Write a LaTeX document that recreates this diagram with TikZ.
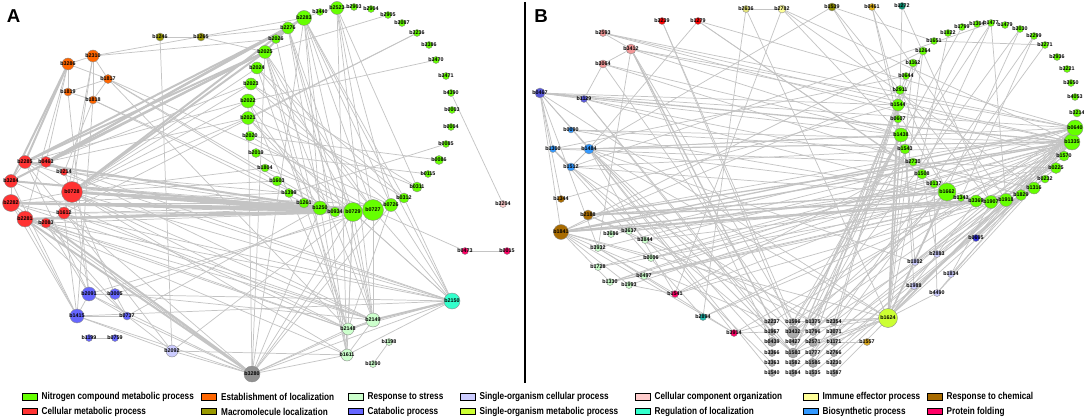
\documentclass[tikz,border=0pt]{standalone}
\usepackage{fontspec}
\setmainfont{Liberation Sans}
\usetikzlibrary{positioning}

\definecolor{nitro}{RGB}{102,255,0}
\definecolor{cellmet}{RGB}{255,51,51}
\definecolor{estloc}{RGB}{255,102,0}
\definecolor{macloc}{RGB}{153,153,0}
\definecolor{stress}{RGB}{204,255,204}
\definecolor{catab}{RGB}{102,102,255}
\definecolor{singcell}{RGB}{204,204,255}
\definecolor{singmet}{RGB}{204,255,51}
\definecolor{compor}{RGB}{255,204,204}
\definecolor{regloc}{RGB}{51,255,204}
\definecolor{immune}{RGB}{255,255,153}
\definecolor{biosyn}{RGB}{51,153,255}
\definecolor{chem}{RGB}{168,107,0}
\definecolor{fold}{RGB}{255,0,102}
\definecolor{grayn}{RGB}{170,170,170}
\definecolor{pinkB}{RGB}{242,150,150}
\definecolor{goldn}{RGB}{228,180,20}
\definecolor{tealn}{RGB}{10,140,110}
\definecolor{tealB}{RGB}{30,185,175}
\definecolor{navyn}{RGB}{45,45,215}
\definecolor{lnk}{RGB}{196,196,196}
\definecolor{lnkl}{RGB}{218,218,218}

\newcommand{\genefont}{\fontsize{4}{4}\selectfont\bfseries}
\newcommand{\legfont}{\fontsize{7.5}{8}\selectfont\bfseries}
\newcommand{\gn}[1]{\makebox[0pt]{#1}}
\newcommand{\legtxt}[1]{\scalebox{0.82}[1]{#1}}

\pgfdeclarelayer{bg}
\pgfsetlayers{bg,main}

\tikzset{every picture/.style={line width=0.75pt},
  gene/.style={circle,draw=black!45,line width=0.3pt,inner sep=0pt,minimum size=1.5pt*#1,font=\genefont},
  link/.style={draw=lnk,line width=0.55pt},
  faint/.style={draw=lnkl,line width=0.45pt},
  heavy/.style={draw=lnk,line width=1.5pt},
  medium/.style={draw=lnk,line width=1pt},
  legbox/.style={draw=black,line width=0.6pt,minimum width=11.25pt,minimum height=5pt,inner sep=0pt},
  legtext/.style={inner sep=0pt,font=\legfont},
  panel/.style={font=\fontsize{14}{14}\selectfont\bfseries}}

\begin{document}
\begin{tikzpicture}[x=0.75pt,y=0.75pt,yscale=-1,xscale=1]
\useasboundingbox (0,0) rectangle (1084,420);

% Panel labels
\node[panel] (labA) at (13.5,16.5) {A};
\node[panel] (labB) at (541,16.5) {B};
% divider
\coordinate (divT) at (525,2);
\coordinate (divB) at (525,383);
\draw[line width=0.8pt] (divT) -- (divB);

%%%%%%%%%%%%%%%% Panel A
% macromolecule localization
\node[gene=4,fill=macloc] (b1246) at (160,37) {\gn{b1246}};
\node[gene=4,fill=macloc] (b1265) at (201,37) {\gn{b1265}};
% establishment of localization
\node[gene=6,fill=estloc] (b2310) at (93,56) {\gn{b2310}};
\node[gene=6,fill=estloc] (b3286) at (68,64) {\gn{b3286}};
\node[gene=4.5,fill=estloc] (b1817) at (108,79) {\gn{b1817}};
\node[gene=4,fill=estloc] (b1819) at (68,92) {\gn{b1819}};
\node[gene=4,fill=estloc] (b1818) at (93,100) {\gn{b1818}};
% cellular metabolic process
\node[gene=6.5,fill=cellmet] (b2285) at (25,162) {\gn{b2285}};
\node[gene=5.5,fill=cellmet] (b0463) at (46,162) {\gn{b0463}};
\node[gene=3.5,fill=cellmet] (b0214) at (64,172) {\gn{b0214}};
\node[gene=6.5,fill=cellmet] (b3284) at (11,181) {\gn{b3284}};
\node[gene=10.5,fill=cellmet] (b0728) at (72,192) {\gn{b0728}};
\node[gene=8.5,fill=cellmet] (b2282) at (11,203) {\gn{b2282}};
\node[gene=6,fill=cellmet] (b1612) at (64,213) {\gn{b1612}};
\node[gene=8,fill=cellmet] (b2281) at (25,219) {\gn{b2281}};
\node[gene=5,fill=cellmet] (b2083) at (46,223) {\gn{b2083}};
% catabolic process
\node[gene=7,fill=catab] (b2091) at (89,294) {\gn{b2091}};
\node[gene=5.5,fill=catab] (b3005) at (115,294) {\gn{b3005}};
\node[gene=7,fill=catab] (b1415) at (77,316) {\gn{b1415}};
\node[gene=4,fill=catab] (b0737) at (127,316) {\gn{b0737}};
\node[gene=3.5,fill=catab] (b1199) at (89,338) {\gn{b1199}};
\node[gene=3.5,fill=catab] (b0759) at (115,338) {\gn{b0759}};
\node[gene=6,fill=singcell] (b2092) at (172,351) {\gn{b2092}};
\node[gene=8,fill=grayn!85!black] (b3280) at (252,374) {\gn{b3280}};
% nitrogen compound metabolic process
\node[gene=7.5,fill=nitro] (b2283) at (304,18) {\gn{b2283}};
\node[gene=3.5,fill=nitro] (b3440) at (320,12) {\gn{b3440}};
\node[gene=6.5,fill=nitro] (b2523) at (337,8) {\gn{b2523}};
\node[gene=3.5,fill=nitro] (b2903) at (354,7) {\gn{b2903}};
\node[gene=3.5,fill=nitro] (b2904) at (371,9) {\gn{b2904}};
\node[gene=3.5,fill=nitro] (b2905) at (388,15) {\gn{b2905}};
\node[gene=3.5,fill=nitro] (b3087) at (402,23) {\gn{b3087}};
\node[gene=3.5,fill=nitro] (b3236) at (417,33) {\gn{b3236}};
\node[gene=3.5,fill=nitro] (b3386) at (429,45) {\gn{b3386}};
\node[gene=3.5,fill=nitro] (b3470) at (436,60) {\gn{b3470}};
\node[gene=3.5,fill=nitro] (b3471) at (446,76) {\gn{b3471}};
\node[gene=3.5,fill=nitro] (b4390) at (451,93) {\gn{b4390}};
\node[gene=3.5,fill=nitro] (b0003) at (452,110) {\gn{b0003}};
\node[gene=3.5,fill=nitro] (b0004) at (451,127) {\gn{b0004}};
\node[gene=3.5,fill=nitro] (b0085) at (446,144) {\gn{b0085}};
\node[gene=4.5,fill=nitro] (b0086) at (439,160) {\gn{b0086}};
\node[gene=3.5,fill=nitro] (b0115) at (428,174) {\gn{b0115}};
\node[gene=5,fill=nitro] (b0311) at (417,187) {\gn{b0311}};
\node[gene=5,fill=nitro] (b0312) at (404,198) {\gn{b0312}};
\node[gene=6.5,fill=nitro] (b0726) at (391,205) {\gn{b0726}};
\node[gene=10.5,fill=nitro] (b0727) at (373,210) {\gn{b0727}};
\node[gene=9.5,fill=nitro] (b0729) at (353,212) {\gn{b0729}};
\node[gene=5,fill=nitro] (b0934) at (335,212) {\gn{b0934}};
\node[gene=7,fill=nitro] (b1250) at (320,208) {\gn{b1250}};
\node[gene=5,fill=nitro] (b1261) at (304,203) {\gn{b1261}};
\node[gene=4.5,fill=nitro] (b1399) at (289,193) {\gn{b1399}};
\node[gene=5,fill=nitro] (b1603) at (277,181) {\gn{b1603}};
\node[gene=4,fill=nitro] (b1804) at (265,168) {\gn{b1804}};
\node[gene=4.5,fill=nitro] (b2019) at (256,153) {\gn{b2019}};
\node[gene=5,fill=nitro] (b2020) at (250,136) {\gn{b2020}};
\node[gene=6.5,fill=nitro] (b2021) at (248,118) {\gn{b2021}};
\node[gene=7,fill=nitro] (b2022) at (248,101) {\gn{b2022}};
\node[gene=6,fill=nitro] (b2023) at (251,84) {\gn{b2023}};
\node[gene=6,fill=nitro] (b2024) at (257,68) {\gn{b2024}};
\node[gene=6.5,fill=nitro] (b2025) at (265,52) {\gn{b2025}};
\node[gene=4.5,fill=nitro] (b2026) at (276,39) {\gn{b2026}};
\node[gene=6,fill=nitro] (b2276) at (288,28) {\gn{b2276}};
% others
\node[gene=3.5,fill=compor] (b3204) at (503,204) {\gn{b3204}};
\node[gene=3.5,fill=fold] (b0473) at (465,251) {\gn{b0473}};
\node[gene=3.5,fill=fold] (b0015) at (507,251) {\gn{b0015}};
\node[gene=8,fill=regloc] (b2150) at (452,301) {\gn{b2150}};
\node[gene=7,fill=stress] (b2149) at (373,320) {\gn{b2149}};
\node[gene=6,fill=stress] (b2148) at (348,329) {\gn{b2148}};
\node[gene=3.5,fill=stress] (b1198) at (389,342) {\gn{b1198}};
\node[gene=6,fill=stress] (b1611) at (347,355) {\gn{b1611}};
\node[gene=3.5,fill=stress] (b1200) at (373,364) {\gn{b1200}};

%%%%%%%%%%%%%%%% Panel B
\node[gene=3.5,fill=immune!80!olive] (b2636) at (746,9) {\gn{b2636}};
\node[gene=4,fill=immune] (b2782) at (782,9) {\gn{b2782}};
\node[gene=3.5,fill=red] (b3239) at (662,21) {\gn{b3239}};
\node[gene=3.5,fill=red] (b1279) at (698,21) {\gn{b1279}};
\node[gene=3.5,fill=pinkB] (b2593) at (603,33) {\gn{b2593}};
\node[gene=5,fill=pinkB] (b3412) at (631,49) {\gn{b3412}};
\node[gene=4,fill=pinkB] (b3064) at (603,64) {\gn{b3064}};
\node[gene=5,fill=catab!85!black] (b0467) at (540,93) {\gn{b0467}};
\node[gene=3.5,fill=catab!85!black] (b1129) at (584,99) {\gn{b1129}};
\node[gene=3,fill=biosyn] (b0090) at (571,130) {\gn{b0090}};
\node[gene=3.5,fill=biosyn] (b1300) at (553,149) {\gn{b1300}};
\node[gene=5,fill=biosyn] (b1484) at (589,149) {\gn{b1484}};
\node[gene=4,fill=biosyn] (b1512) at (571,167) {\gn{b1512}};
\node[gene=4,fill=macloc!90!black] (b1539) at (832,7) {\gn{b1539}};
\node[gene=3.5,fill=goldn] (b0461) at (872,7) {\gn{b0461}};
\node[gene=3.5,fill=tealn] (b1272) at (902,6) {\gn{b1272}};
% nitrogen compound metabolic process
\node[gene=3.5,fill=nitro] (b1799) at (962,27) {\gn{b1799}};
\node[gene=3.5,fill=nitro] (b1304) at (977,24) {\gn{b1304}};
\node[gene=3.5,fill=nitro] (b1477) at (991,23) {\gn{b1477}};
\node[gene=3.5,fill=nitro] (b1479) at (1005,25) {\gn{b1479}};
\node[gene=3.5,fill=nitro] (b3030) at (1020,29) {\gn{b3030}};
\node[gene=3.5,fill=nitro] (b2299) at (1034,36) {\gn{b2299}};
\node[gene=3.5,fill=nitro] (b3271) at (1045,45) {\gn{b3271}};
\node[gene=3.5,fill=nitro] (b2936) at (1057,57) {\gn{b2936}};
\node[gene=3.5,fill=nitro] (b3221) at (1067,69) {\gn{b3221}};
\node[gene=3.5,fill=nitro] (b3650) at (1071,83) {\gn{b3650}};
\node[gene=3.5,fill=nitro] (b4053) at (1075,97) {\gn{b4053}};
\node[gene=4,fill=nitro] (b3214) at (1077,113) {\gn{b3214}};
\node[gene=3.5,fill=nitro] (b1822) at (948,33) {\gn{b1822}};
\node[gene=3.5,fill=nitro] (b1651) at (934,41) {\gn{b1651}};
\node[gene=4,fill=nitro] (b1264) at (923,51) {\gn{b1264}};
\node[gene=4,fill=nitro] (b1162) at (913,63) {\gn{b1162}};
\node[gene=3.5,fill=nitro] (b0644) at (906,76) {\gn{b0644}};
\node[gene=4.5,fill=nitro] (b2911) at (900,90) {\gn{b2911}};
\node[gene=6,fill=nitro] (b1544) at (898,105) {\gn{b1544}};
\node[gene=4,fill=nitro] (b0607) at (898,119) {\gn{b0607}};
\node[gene=7,fill=nitro] (b1438) at (901,135) {\gn{b1438}};
\node[gene=5,fill=nitro] (b1543) at (905,149) {\gn{b1543}};
\node[gene=4,fill=nitro] (b2730) at (913,162) {\gn{b2730}};
\node[gene=5,fill=nitro] (b1508) at (922,174) {\gn{b1508}};
\node[gene=4,fill=nitro] (b0137) at (934,184) {\gn{b0137}};
\node[gene=9,fill=nitro] (b1662) at (947,192) {\gn{b1662}};
\node[gene=3.5,fill=nitro] (b1343) at (961,198) {\gn{b1343}};
\node[gene=6,fill=nitro] (b3369) at (976,201) {\gn{b3369}};
\node[gene=6.5,fill=nitro] (b1907) at (991,202) {\gn{b1907}};
\node[gene=6.5,fill=nitro] (b1918) at (1006,200) {\gn{b1918}};
\node[gene=5.5,fill=nitro] (b1829) at (1021,195) {\gn{b1829}};
\node[gene=6,fill=nitro] (b1316) at (1034,188) {\gn{b1316}};
\node[gene=4,fill=nitro] (b0232) at (1045,179) {\gn{b0232}};
\node[gene=5.5,fill=nitro] (b0225) at (1056,168) {\gn{b0225}};
\node[gene=5,fill=nitro] (b1570) at (1064,156) {\gn{b1570}};
\node[gene=8,fill=nitro] (b1335) at (1072,142) {\gn{b1335}};
\node[gene=8,fill=nitro] (b0640) at (1075,128) {\gn{b0640}};
% response to chemical
\node[gene=3.5,fill=chem] (b1344) at (561,199) {\gn{b1344}};
\node[gene=5,fill=chem] (b2188) at (588,215) {\gn{b2188}};
\node[gene=7.5,fill=chem] (b1841) at (561,232) {\gn{b1841}};
% response to stress
\node[gene=3.5,fill=stress] (b3686) at (611,234) {\gn{b3686}};
\node[gene=3.5,fill=stress] (b3637) at (629,231) {\gn{b3637}};
\node[gene=3.5,fill=stress] (b3844) at (645,240) {\gn{b3844}};
\node[gene=3.5,fill=stress] (b3932) at (598,248) {\gn{b3932}};
\node[gene=3.5,fill=stress] (b0006) at (651,258) {\gn{b0006}};
\node[gene=3.5,fill=stress] (b1728) at (598,267) {\gn{b1728}};
\node[gene=3.5,fill=stress] (b0497) at (644,276) {\gn{b0497}};
\node[gene=3.5,fill=stress] (b1330) at (610,282) {\gn{b1330}};
\node[gene=3.5,fill=stress] (b1993) at (629,285) {\gn{b1993}};
\node[gene=3.5,fill=fold] (b1541) at (675,294) {\gn{b1541}};
\node[gene=3.5,fill=fold] (b3914) at (734,333) {\gn{b3914}};
\node[gene=3.5,fill=tealB] (b2894) at (703,317) {\gn{b2894}};
\node[gene=3.5,fill=navyn] (b0695) at (976,238) {\gn{b0695}};
% single-organism processes
\node[gene=3.5,fill=singcell] (b2883) at (937,254) {\gn{b2883}};
\node[gene=3.5,fill=singcell] (b1802) at (915,262) {\gn{b1802}};
\node[gene=3.5,fill=singcell] (b1834) at (951,274) {\gn{b1834}};
\node[gene=3.5,fill=singcell] (b1988) at (914,286) {\gn{b1988}};
\node[gene=3.5,fill=singcell] (b4490) at (937,293) {\gn{b4490}};
\node[gene=9.5,fill=singmet] (b1624) at (888,318) {\gn{b1624}};
\node[gene=3.5,fill=goldn!80!brown] (b1557) at (867,342) {\gn{b1557}};
% unassigned block
\node[gene=3.5,fill=grayn] (b2237) at (772,322) {\gn{b2237}};
\node[gene=3.5,fill=grayn] (b1967) at (772,332) {\gn{b1967}};
\node[gene=4.5,fill=grayn] (b0439) at (772,342) {\gn{b0439}};
\node[gene=3.5,fill=grayn] (b3366) at (772,353) {\gn{b3366}};
\node[gene=3.5,fill=grayn] (b3363) at (772,363) {\gn{b3363}};
\node[gene=3.5,fill=grayn] (b1540) at (772,373) {\gn{b1540}};
\node[gene=3.5,fill=grayn] (b1596) at (793,322) {\gn{b1596}};
\node[gene=6,fill=grayn] (b3432) at (793,332) {\gn{b3432}};
\node[gene=3.5,fill=grayn] (b0427) at (793,342) {\gn{b0427}};
\node[gene=5,fill=grayn] (b1583) at (793,353) {\gn{b1583}};
\node[gene=3.5,fill=grayn] (b1582) at (793,363) {\gn{b1582}};
\node[gene=3.5,fill=grayn] (b1584) at (793,373) {\gn{b1584}};
\node[gene=3.5,fill=grayn] (b1375) at (813,322) {\gn{b1375}};
\node[gene=3.5,fill=grayn] (b1796) at (813,332) {\gn{b1796}};
\node[gene=4.5,fill=grayn] (b2571) at (813,342) {\gn{b2571}};
\node[gene=3.5,fill=grayn] (b1777) at (813,353) {\gn{b1777}};
\node[gene=4.5,fill=grayn] (b1585) at (813,363) {\gn{b1585}};
\node[gene=3.5,fill=grayn] (b1535) at (813,373) {\gn{b1535}};
\node[gene=3.5,fill=grayn] (b2354) at (834,322) {\gn{b2354}};
\node[gene=3.5,fill=grayn] (b3071) at (834,332) {\gn{b3071}};
\node[gene=3.5,fill=grayn] (b1171) at (834,342) {\gn{b1171}};
\node[gene=3.5,fill=grayn] (b2766) at (834,353) {\gn{b2766}};
\node[gene=3.5,fill=grayn] (b3230) at (834,363) {\gn{b3230}};
\node[gene=3.5,fill=grayn] (b1587) at (834,373) {\gn{b1587}};

%%%%%%%%%%%%%%%% interactions
\begin{pgfonlayer}{bg}
\begin{scope}[every edge/.style={link}]
% panel A
\path (b2310) edge (b3286) edge (b1817) edge (b1818) edge (b2283) edge (b0728) edge (b1612) edge (b2026);
\path (b1817) edge (b1819) edge (b1818) edge (b1250) edge (b0726) edge (b0934) edge (b2148);
\path (b1819) edge (b1818) edge (b3286) edge (b2091);
\path (b1818) edge (b0934) edge (b1261) edge (b0214) edge (b1415);
\path (b3286) edge (b0463) edge (b1817) edge (b2281);
\path (b1246) edge (b1265) edge (b2092);
\path (b1265) edge (b2276) edge (b2025);
\path (b2285) edge (b0463) edge (b3284) edge (b0728) edge (b2022) edge (b2150) edge (b2092) edge (b2091);
\path (b0463) edge (b0214) edge (b2021) edge (b2150) edge (b2023) edge (b2149);
\path (b3284) edge (b2282) edge (b0727) edge (b1250) edge (b2148) edge (b1415);
\path (b0728) edge (b0214) edge (b1612) edge (b2282) edge (b2021) edge (b2022) edge (b2023) edge (b2024) edge (b1603) edge (b1804) edge (b3005) edge (b2091) edge (b2149) edge (b2150) edge (b1611) edge (b0726) edge (b2148);
\path (b2282) edge (b2281) edge (b1261) edge (b1415) edge (b2149) edge (b2150) edge (b3280) edge (b1399);
\path (b2281) edge (b2083) edge (b1415) edge (b0737) edge (b1250) edge (b2150) edge (b1611) edge (b2148) edge (b2149);
\path (b1612) edge (b2083) edge (b1415) edge (b0726) edge (b2149) edge (b0729) edge (b3280);
\path (b2083) edge (b2091) edge (b0729) edge (b0737) edge (b2148);
\path (b0214) edge (b1399) edge (b0934);
\path (b2091) edge (b3005) edge (b1415) edge (b0737) edge (b0727) edge (b3280) edge (b2150);
\path (b3005) edge (b0737) edge (b0729) edge (b2149);
\path (b1415) edge (b0737) edge (b2150) edge (b3280) edge (b2092);
\path (b0737) edge (b2092) edge (b3280) edge (b1250);
\path (b1199) edge (b0759);
\path (b2092) edge (b3280) edge (b1611) edge (b0729);
\path (b3280) edge (b0729) edge (b0727) edge (b2149) edge (b2148) edge (b1611) edge (b1250) edge (b2025) edge (b2022) edge (b2150) edge (b0726) edge (b2283);
\path (b2150) edge (b0727) edge (b0729) edge (b0726) edge (b2148) edge (b1611) edge (b2021) edge (b0312) edge (b2283);
\path (b2149) edge (b2148) edge (b1611) edge (b0727) edge (b0729) edge (b2283) edge (b2276) edge (b2025) edge (b2523);
\path (b2148) edge (b0726) edge (b0729) edge (b2022) edge (b2025) edge (b2024);
\path (b1611) edge (b2283) edge (b2276) edge (b2523) edge (b0729) edge (b2026);
\path (b1198) edge (b1200);
\path (b0473) edge (b0015) edge (b0727);
\path (b3204) edge (b4390);
\path (b2283) edge (b0726) edge (b0312) edge (b3440) edge (b0727) edge (b1250);
\path (b2523) edge (b0727) edge (b0311) edge (b3440) edge (b0726) edge (b2903);
\path (b2276) edge (b0729) edge (b0934);
\path (b2025) edge (b0729) edge (b0727) edge (b2905) edge (b1261);
\path (b2024) edge (b0727) edge (b0312);
\path (b2023) edge (b0726) edge (b0311);
\path (b2022) edge (b0312) edge (b1250);
\path (b2021) edge (b3236) edge (b0311) edge (b0934);
\path (b2020) edge (b0086) edge (b0727);
\path (b2019) edge (b0115) edge (b0729);
\path (b3236) edge (b1612);
\path (b3470) edge (b2022);
\path (b0085) edge (b1399);
\path (b1804) edge (b0727);
% panel B
\path (b0467) edge (b0640) edge (b1438) edge (b1484) edge (b1300) edge (b1841) edge (b3932) edge (b1129) edge (b1624) edge (b1344) edge (b1544);
\path (b1129) edge (b3064) edge (b1662) edge (b1583) edge (b1316);
\path (b3064) edge (b3412) edge (b1438) edge (b3432) edge (b1829);
\path (b2593) edge (b1335) edge (b0640) edge (b3412) edge (b1570);
\path (b3412) edge (b0640) edge (b1335) edge (b3932) edge (b1596) edge (b1438);
\path (b3239) edge (b1596) edge (b3432);
\path (b1279) edge (b1662) edge (b1484) edge (b0640) edge (b1508);
\path (b2636) edge (b2894) edge (b1624) edge (b2782);
\path (b2782) edge (b1541) edge (b1438) edge (b1335) edge (b1316);
\path (b1539) edge (b1651) edge (b1662) edge (b1907) edge (b1484);
\path (b0461) edge (b1438) edge (b1544) edge (b1918);
\path (b1272) edge (b1907) edge (b2911);
\path (b1477) edge (b1508) edge (b1512) edge (b1918);
\path (b3271) edge (b1651);
\path (b2299) edge (b1343);
\path (b3030) edge (b1624);
\path (b1264) edge (b1841);
\path (b1162) edge (b1624);
\path (b2911) edge (b1662);
\path (b0644) edge (b1300);
\path (b1335) edge (b1484) edge (b1512) edge (b1300) edge (b0090) edge (b3432) edge (b1583) edge (b2883) edge (b1834) edge (b1728) edge (b1993) edge (b0006) edge (b3914) edge (b1541);
\path (b0640) edge (b1484) edge (b2188) edge (b1330) edge (b3932) edge (b2237) edge (b1596) edge (b0695) edge (b1802) edge (b4490);
\path (b1316) edge (b1624) edge (b4490) edge (b1330);
\path (b0225) edge (b1988) edge (b0497);
\path (b1570) edge (b1802);
\path (b1829) edge (b0695);
\path (b1918) edge (b0695) edge (b1541) edge (b1512);
\path (b3369) edge (b2883) edge (b1728);
\path (b1907) edge (b1834) edge (b0090);
\path (b1662) edge (b1484) edge (b3432) edge (b1583);
\path (b1438) edge (b3432) edge (b1583) edge (b1596) edge (b1375) edge (b1484);
\path (b1544) edge (b1583) edge (b2571) edge (b1344);
\path (b1543) edge (b1802) edge (b1988) edge (b0090);
\path (b2730) edge (b3637) edge (b1541);
\path (b1508) edge (b2883) edge (b3844);
\path (b0137) edge (b4490) edge (b1330);
\path (b1841) edge (b1624) edge (b3914) edge (b1330) edge (b2237) edge (b0006) edge (b1993) edge (b2911);
\path (b2188) edge (b1375) edge (b2354);
\path (b1484) edge (b1624) edge (b3432) edge (b1583) edge (b1512) edge (b1541) edge (b3914);
\path (b1512) edge (b1583) edge (b1375);
\path (b1300) edge (b2894) edge (b1512) edge (b0225);
\path (b3932) edge (b1541) edge (b3914);
\path (b1330) edge (b1918);
\path (b1993) edge (b1541);
\path (b0497) edge (b1316);
\path (b0006) edge (b1570);
\path (b3686) edge (b0225);
\path (b3637) edge (b1829);
\path (b3844) edge (b1829);
\path (b2894) edge (b1335) edge (b0225);
\path (b3914) edge (b2237) edge (b1967);
\path (b1624) edge (b1596) edge (b3432) edge (b1583) edge (b2571) edge (b2354) edge (b1171) edge (b1802) edge (b1988) edge (b4490) edge (b2883) edge (b1264) edge (b1822) edge (b2911);
\path (b1171) edge (b1557);
\path (b2354) edge (b1544);
\path (b3071) edge (b2911);
\path (b1796) edge (b1662) edge (b0644);
\path (b2766) edge (b0640);
\path (b3230) edge (b1335);
\path (b1585) edge (b1316) edge (b3271);
\path (b1535) edge (b0225);
\path (b1587) edge (b1918);
\path (b1584) edge (b1570);
\path (b1582) edge (b1829);
\path (b1540) edge (b1484);
\path (b3363) edge (b1300);
\path (b3366) edge (b0467);
\path (b0439) edge (b3412);
\path (b1967) edge (b1129);
\path (b0427) edge (b0232) edge (b3030);
\path (b1777) edge (b1907) edge (b2299);
\path (b1802) edge (b1484);
\path (b0695) edge (b1335);
\path (b1596) edge (b1477);
\path (b1375) edge (b1304);
\path (b3432) edge (b1799);
\path (b1583) edge (b1264);
\path (b2571) edge (b1162);
\end{scope}
\begin{scope}[every edge/.style={heavy}]
\path (b0728) edge (b0729) edge (b0727) edge (b1250) edge (b0934) edge (b2025) edge (b2276);
\path (b2282) edge (b0729) edge (b0727) edge (b1250);
\path (b2281) edge (b0727) edge (b0729) edge (b3280);
\path (b3284) edge (b0729) edge (b2025);
\path (b2285) edge (b2025) edge (b2276) edge (b0729);
\path (b0463) edge (b2025) edge (b2283) edge (b2276);
\path (b3286) edge (b2285) edge (b3284);
\path (b2083) edge (b3280);
\path (b2149) edge (b2150);
\path (b2283) edge (b2276);
\path (b2025) edge (b2276);
\end{scope}
\begin{scope}[every edge/.style={medium}]
\path (b1841) edge (b1662) edge (b3369) edge (b1907) edge (b1335) edge (b0640);
\path (b2188) edge (b1662) edge (b1918) edge (b1335);
\path (b1624) edge (b1438) edge (b1544) edge (b1662) edge (b0640);
\path (b0467) edge (b1335);
\path (b3412) edge (b2237);
\end{scope}
\end{pgfonlayer}

%%%%%%%%%%%%%%%% legend
\node[legbox,fill=nitro] (kNitro) at (29.5,397) {};
\node[legtext,right=3pt of kNitro] (tNitro) {\legtxt{Nitrogen compound metabolic process}};
\node[legbox,fill=estloc] (kEstloc) at (209,397) {};
\node[legtext,right=3pt of kEstloc] (tEstloc) {\legtxt{Establishment of localization}};
\node[legbox,fill=stress] (kStress) at (355.5,397) {};
\node[legtext,right=3pt of kStress] (tStress) {\legtxt{Response to stress}};
\node[legbox,fill=singcell] (kSingcell) at (467.5,397) {};
\node[legtext,right=3pt of kSingcell] (tSingcell) {\legtxt{Single-organism cellular process}};
\node[legbox,fill=compor] (kCompor) at (642.5,397) {};
\node[legtext,right=3pt of kCompor] (tCompor) {\legtxt{Cellular component organization}};
\node[legbox,fill=immune] (kImmune) at (810.5,397) {};
\node[legtext,right=3pt of kImmune] (tImmune) {\legtxt{Immune effector process}};
\node[legbox,fill=chem] (kChem) at (934.5,397) {};
\node[legtext,right=3pt of kChem] (tChem) {\legtxt{Response to chemical}};
\node[legbox,fill=cellmet] (kCellmet) at (29.5,411.5) {};
\node[legtext,right=3pt of kCellmet] (tCellmet) {\legtxt{Cellular metabolic process}};
\node[legbox,fill=macloc] (kMacloc) at (209,411.5) {};
\node[legtext,right=3pt of kMacloc] (tMacloc) {\legtxt{Macromolecule localization}};
\node[legbox,fill=catab] (kCatab) at (355.5,411.5) {};
\node[legtext,right=3pt of kCatab] (tCatab) {\legtxt{Catabolic process}};
\node[legbox,fill=singmet] (kSingmet) at (467.5,411.5) {};
\node[legtext,right=3pt of kSingmet] (tSingmet) {\legtxt{Single-organism metabolic process}};
\node[legbox,fill=regloc] (kRegloc) at (642.5,411.5) {};
\node[legtext,right=3pt of kRegloc] (tRegloc) {\legtxt{Regulation of localization}};
\node[legbox,fill=biosyn] (kBiosyn) at (810.5,411.5) {};
\node[legtext,right=3pt of kBiosyn] (tBiosyn) {\legtxt{Biosynthetic process}};
\node[legbox,fill=fold] (kFold) at (934.5,411.5) {};
\node[legtext,right=3pt of kFold] (tFold) {\legtxt{Protein folding}};
\end{tikzpicture}
\end{document}
